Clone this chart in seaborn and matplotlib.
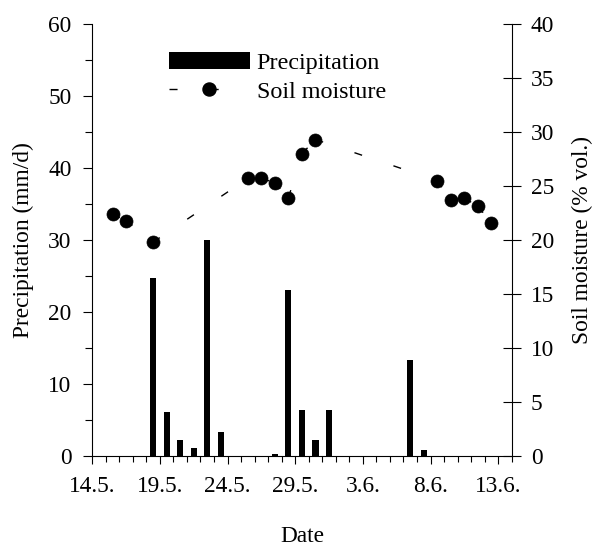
import numpy as np
import pandas as pd
import matplotlib
matplotlib.use("Agg")
import matplotlib.pyplot as plt
from matplotlib.ticker import MultipleLocator
from matplotlib.lines import Line2D
from matplotlib.patches import Patch
import seaborn as sns

# --- data ---
rain_dates = ["18.5.", "19.5.", "20.5.", "21.5.", "22.5.", "23.5.",
              "27.5.", "28.5.", "29.5.", "30.5.", "31.5.", "6.6.", "7.6."]
rain_mm = [24.7, 6.1, 2.2, 1.1, 30.0, 3.3,
           0.25, 23.0, 6.4, 2.2, 6.4, 13.3, 0.8]

soil_dates = ["15.5.", "16.5.", "18.5.", "25.5.", "26.5.", "27.5.", "28.5.",
              "29.5.", "30.5.", "8.6.", "9.6.", "10.6.", "11.6.", "12.6."]
soil_vol = [22.4, 21.8, 19.8, 25.7, 25.7, 25.3, 23.9,
            28.0, 29.3, 25.5, 23.7, 23.9, 23.1, 21.6]

tick_labels = ["14.5.", "19.5.", "24.5.", "29.5.", "3.6.", "8.6.", "13.6."]

# --- style ---
sns.set_style("ticks")
plt.rcParams["font.family"] = "serif"
plt.rcParams["font.serif"] = ["Liberation Serif", "DejaVu Serif"]
plt.rcParams.update({
    "font.size": 16.8,
    "axes.edgecolor": "black",
    "axes.labelcolor": "black",
    "text.color": "black",
    "xtick.color": "black",
    "ytick.color": "black",
    "axes.linewidth": 0.8,
})

start = pd.to_datetime("14.5.", format="%d.%m.")


def day_pos(dates, noon=0.5):
    # days since 14.5.; daily values sit in the middle of the day
    d = pd.to_datetime(pd.Series(dates), format="%d.%m.")
    return (d - start).dt.days + noon


rain = pd.DataFrame({"day": day_pos(rain_dates), "mm": rain_mm})
soil = pd.DataFrame({"day": day_pos(soil_dates), "vol": soil_vol})
tick_pos = day_pos(tick_labels, noon=0)

# the dash pattern restarts at every point -> one line per segment
seg = pd.concat([
    soil.iloc[:-1].assign(seg=np.arange(len(soil) - 1)),
    soil.iloc[1:].assign(seg=np.arange(len(soil) - 1)),
]).sort_values(["seg", "day"])

dash = (0, (5.8, 23.8))

fig, ax = plt.subplots(figsize=(5.95, 5.46), dpi=100)
fig.subplots_adjust(left=0.155, right=0.86, top=0.956, bottom=0.165)

sns.barplot(data=rain, x="day", y="mm", native_scale=True, width=0.45,
            color="black", saturation=1, linewidth=0, ax=ax)

ax2 = ax.twinx()
sns.lineplot(data=seg, x="day", y="vol", units="seg", estimator=None,
             ax=ax2, color="black", lw=1, linestyle=dash)
sns.scatterplot(data=soil, x="day", y="vol", ax=ax2, color="black", s=88,
                edgecolor="black", linewidth=0.5, zorder=3)

# left axis
ax.set_xlim(0, 31)
ax.set_ylim(0, 60)
ax.yaxis.set_major_locator(MultipleLocator(10))
ax.yaxis.set_minor_locator(MultipleLocator(5))
ax.set_xticks(tick_pos)
ax.set_xticklabels(tick_labels)
ax.xaxis.set_minor_locator(MultipleLocator(1))
ax.tick_params(axis="y", which="major", direction="out", length=6.3, width=0.8, pad=8.5)
ax.tick_params(axis="y", which="minor", direction="out", length=4.8, width=0.8)
ax.tick_params(axis="x", which="major", direction="out", length=6, width=0.8, pad=8.5)
ax.tick_params(axis="x", which="minor", direction="out", length=4.5, width=0.8)
ax.set_xlabel("Date", labelpad=21)
ax.set_ylabel("Precipitation (mm/d)", labelpad=10.5)

# right axis
ax2.set_ylim(0, 40)
ax2.yaxis.set_major_locator(MultipleLocator(5))
ax2.tick_params(axis="y", direction="inout", length=13, width=0.8, pad=7.2)
ax2.set_ylabel("Soil moisture (% vol.)", labelpad=13)

ax.spines["top"].set_visible(False)
ax.spines["right"].set_visible(False)
for s in ["top", "left", "bottom"]:
    ax2.spines[s].set_visible(False)

handles = [Patch(facecolor="black", edgecolor="none"),
           Line2D([], [], color="black", lw=1, linestyle=dash, marker="o",
                  markersize=9.4)]
ax2.legend(handles, ["Precipitation", "Soil moisture"], loc="upper left",
           bbox_to_anchor=(0.183, 0.935), frameon=False, borderpad=0,
           borderaxespad=0, handlelength=3.35, handletextpad=0.28,
           labelspacing=0.28, fontsize=17.4)

plt.savefig("out.png", dpi=100)
